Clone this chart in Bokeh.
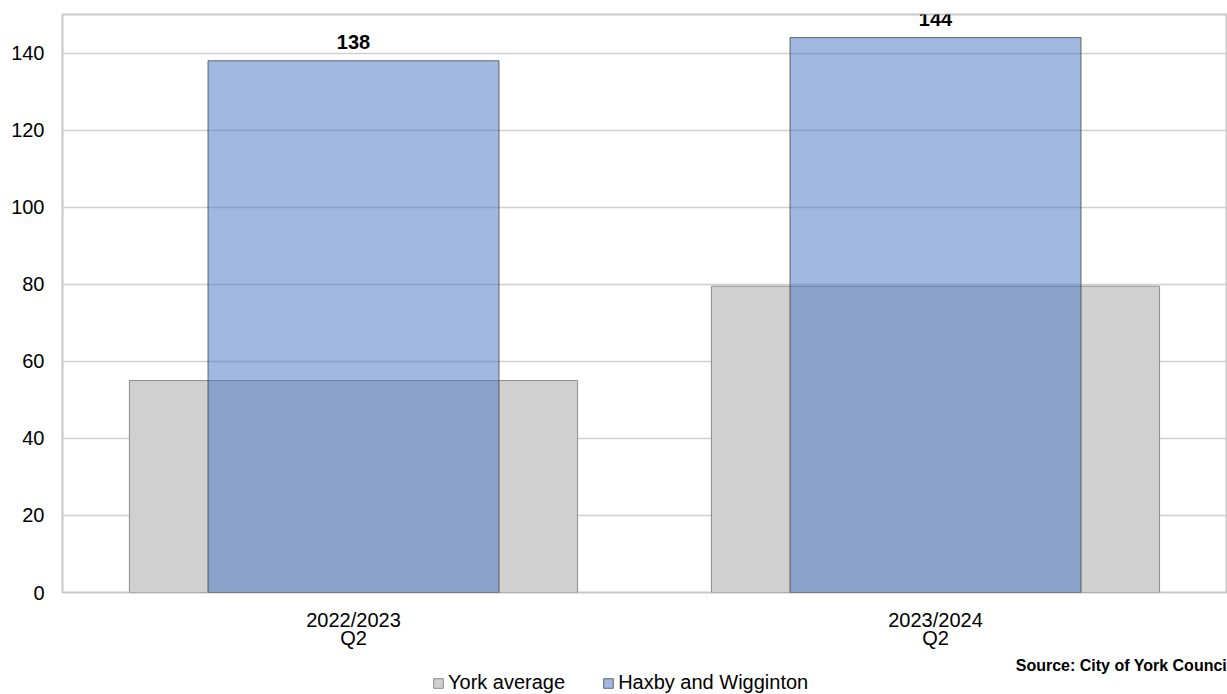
from bokeh.plotting import figure
from bokeh.models import (ColumnDataSource, FixedTicker, Legend, LegendItem,
                          LabelSet, Label, Range1d)
from bokeh.layouts import column
from bokeh.core.properties import value
from bokeh.embed import file_html
from bokeh.resources import INLINE

categories = ["2022/2023\nQ2", "2023/2024\nQ2"]
york_average = [55, 79.5]
haxby = [138, 144]
y_ticks = [0, 20, 40, 60, 80, 100, 120, 140]
series_names = ["York average", "Haxby and Wigginton"]
source_text = "Source: City of York Council"

xpos = [i + 0.5 for i in range(len(categories))]
src = ColumnDataSource(dict(x=xpos, york=york_average, haxby=haxby,
                            lab=[str(v) for v in haxby]))

FONT = "Liberation Sans"
YORK_STYLE = dict(fill_color="#D0D0D0", line_color="#8C8C8C", line_width=1)
HAX_STYLE = dict(fill_color="#4472C4", fill_alpha=0.5, line_color="#333333",
                 line_alpha=0.7, line_width=1)

# ---- main chart ----
p = figure(frame_width=1164, frame_height=578, min_border_left=62,
           min_border_right=1, min_border_top=14, min_border_bottom=64,
           output_backend="svg", toolbar_location=None,
           x_range=Range1d(0, len(categories)), y_range=Range1d(0, 150))

p.vbar(x="x", top="york", width=0.77, source=src, **YORK_STYLE)
p.vbar(x="x", top="haxby", width=0.5, source=src, **HAX_STYLE)

labels = LabelSet(x="x", y="haxby", text="lab", source=src, y_offset=12,
                  text_align="center", text_baseline="alphabetic",
                  text_font=value(FONT), text_font_size="20px",
                  text_font_style="bold", text_color="#000000")
p.add_layout(labels)

p.xaxis.ticker = FixedTicker(ticks=xpos)
p.xaxis.major_label_overrides = {x: c for x, c in zip(xpos, categories)}
p.yaxis.ticker = FixedTicker(ticks=y_ticks)
for ax in (p.xaxis, p.yaxis):
    ax.axis_line_color = None
    ax.major_tick_line_color = None
    ax.minor_tick_line_color = None
    ax.major_tick_out = 0
    ax.major_tick_in = 0
    ax.major_label_text_font = FONT
    ax.major_label_text_font_size = "20px"
    ax.major_label_text_color = "#000000"
p.yaxis.major_label_standoff = 18
p.xaxis.major_label_standoff = 16
p.xaxis.major_label_text_line_height = 0.85

p.xgrid.grid_line_color = None
p.ygrid.grid_line_color = "#D0D0D0"
p.ygrid.grid_line_width = 1.5
p.ygrid.ticker = FixedTicker(ticks=y_ticks)
p.outline_line_color = "#C8C8C8"
p.outline_line_width = 2

# ---- footer: source note + legend ----
FOOT_H = 38
f = figure(frame_width=1164, frame_height=FOOT_H, min_border_left=62,
           min_border_right=1, min_border_top=0, min_border_bottom=0,
           output_backend="svg", toolbar_location=None,
           x_axis_type=None, y_axis_type=None,
           x_range=Range1d(62, 1226), y_range=Range1d(0, FOOT_H))
f.grid.visible = False
f.outline_line_color = None

r_york = f.vbar(x="x", top="york", width=0.77, source=src, visible=False,
                **YORK_STYLE)
r_hax = f.vbar(x="x", top="haxby", width=0.5, source=src, visible=False,
               **HAX_STYLE)

f.add_layout(Label(x=1231, y=FOOT_H - 9, text=source_text,
                   text_align="right", text_baseline="alphabetic",
                   text_font=FONT, text_font_size="16px",
                   text_font_style="bold", text_color="#000000"))

legend = Legend(items=[LegendItem(label=series_names[0], renderers=[r_york]),
                       LegendItem(label=series_names[1], renderers=[r_hax])],
                orientation="horizontal", location=(370, 0),
                padding=0, margin=0, spacing=37, label_standoff=4,
                glyph_width=12, glyph_height=12, label_height=18,
                label_text_font=FONT, label_text_font_size="20px",
                label_text_color="#000000", inactive_fill_alpha=0,
                border_line_color=None, background_fill_alpha=0)
f.add_layout(legend, "center")

layout = column(p, f, spacing=0)
open("out.html", "w").write(file_html(layout, INLINE))
